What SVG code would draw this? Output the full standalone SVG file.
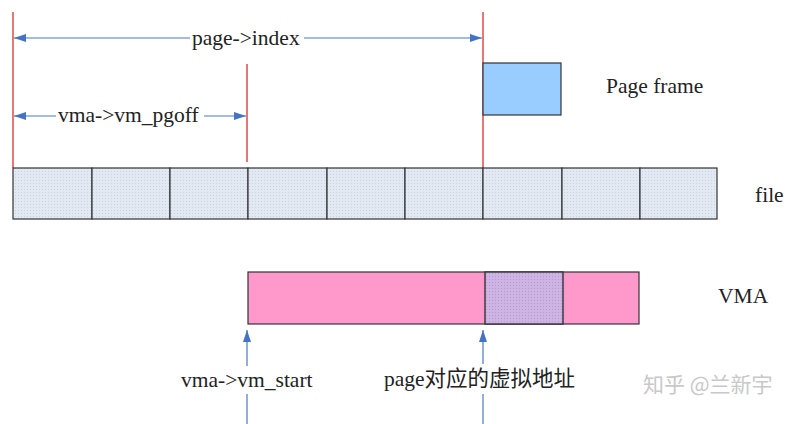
<svg xmlns="http://www.w3.org/2000/svg" width="812" height="424" viewBox="0 0 812 424">
<style>
.t{font-family:"Liberation Serif","Noto Sans CJK SC",serif;font-size:21.5px;fill:#222}
.red{stroke:#e05555;stroke-width:1.6;fill:none}
.blu{stroke:#4a78c0;stroke-width:1.2;fill:none}
.cell{fill:url(#dots);stroke:#333;stroke-width:1.2}
.wm{font-family:"Noto Sans CJK SC","Noto Sans",sans-serif;font-size:21px;fill:#c8c8c8}
</style>
<defs>
<pattern id="dots" width="3" height="3" patternUnits="userSpaceOnUse">
<rect width="3" height="3" fill="#e2e9f2"/>
<rect width="1" height="1" fill="#c9d3df"/>
</pattern>
<pattern id="pdots" width="3" height="3" patternUnits="userSpaceOnUse">
<rect width="3" height="3" fill="#cdb4e4"/>
<rect width="1" height="1" fill="#b59ad0"/>
</pattern>
<marker id="ah" viewBox="0 0 12 8" refX="12" refY="4" markerWidth="12" markerHeight="8" markerUnits="userSpaceOnUse" orient="auto-start-reverse">
<path d="M0,0 L12,4 L0,8 z" fill="#4472c4"/>
</marker>
</defs>

<g id="guides">
<line class="red" x1="13" y1="12" x2="13" y2="168"/>
<line class="red" x1="483" y1="12" x2="483" y2="168"/>
<line class="red" x1="247" y1="64" x2="247" y2="162"/>
</g>

<g id="page-frame">
<rect x="483" y="63" width="78" height="52" fill="#99ccff" stroke="#333" stroke-width="1.2"/>
<text class="t" x="606" y="93">Page frame</text>
</g>

<g id="file">
<rect class="cell" x="13" y="168" width="79" height="51"/>
<rect class="cell" x="92" y="168" width="78" height="51"/>
<rect class="cell" x="170" y="168" width="78" height="51"/>
<rect class="cell" x="248" y="168" width="79" height="51"/>
<rect class="cell" x="327" y="168" width="78" height="51"/>
<rect class="cell" x="405" y="168" width="78" height="51"/>
<rect class="cell" x="483" y="168" width="79" height="51"/>
<rect class="cell" x="562" y="168" width="78" height="51"/>
<rect class="cell" x="640" y="168" width="77" height="51"/>
<text class="t" x="755" y="202">file</text>
</g>

<g id="vma">
<rect x="248" y="272" width="391" height="52" fill="#ff99cc" stroke="#333" stroke-width="1.2"/>
<rect x="485" y="272" width="78" height="52" fill="url(#pdots)" stroke="#333" stroke-width="1.4"/>
<text class="t" x="718" y="303">VMA</text>
</g>

<g id="connectors">
<line class="blu" x1="14" y1="38" x2="482" y2="38" marker-start="url(#ah)" marker-end="url(#ah)"/>
<line class="blu" x1="14" y1="116" x2="246" y2="116" marker-start="url(#ah)" marker-end="url(#ah)"/>
<line class="blu" x1="247" y1="424" x2="247" y2="330" marker-end="url(#ah)"/>
<line class="blu" x1="483" y1="424" x2="483" y2="330" marker-end="url(#ah)"/>
</g>

<g id="labels">
<rect x="190" y="26" width="114" height="24" fill="#fff"/>
<text class="t" x="192" y="45">page-&gt;index</text>
<rect x="56" y="104" width="148" height="24" fill="#fff"/>
<text class="t" x="58" y="122">vma-&gt;vm_pgoff</text>
<rect x="178" y="366" width="138" height="28" fill="#fff"/>
<text class="t" x="181" y="387">vma-&gt;vm_start</text>
<rect x="380" y="364" width="202" height="30" fill="#fff"/>
<text class="t" x="384" y="386">page对应的虚拟地址</text>
</g>

<g id="watermark">
<text class="wm" x="643" y="392">知乎 @兰新宇</text>
</g>
</svg>
